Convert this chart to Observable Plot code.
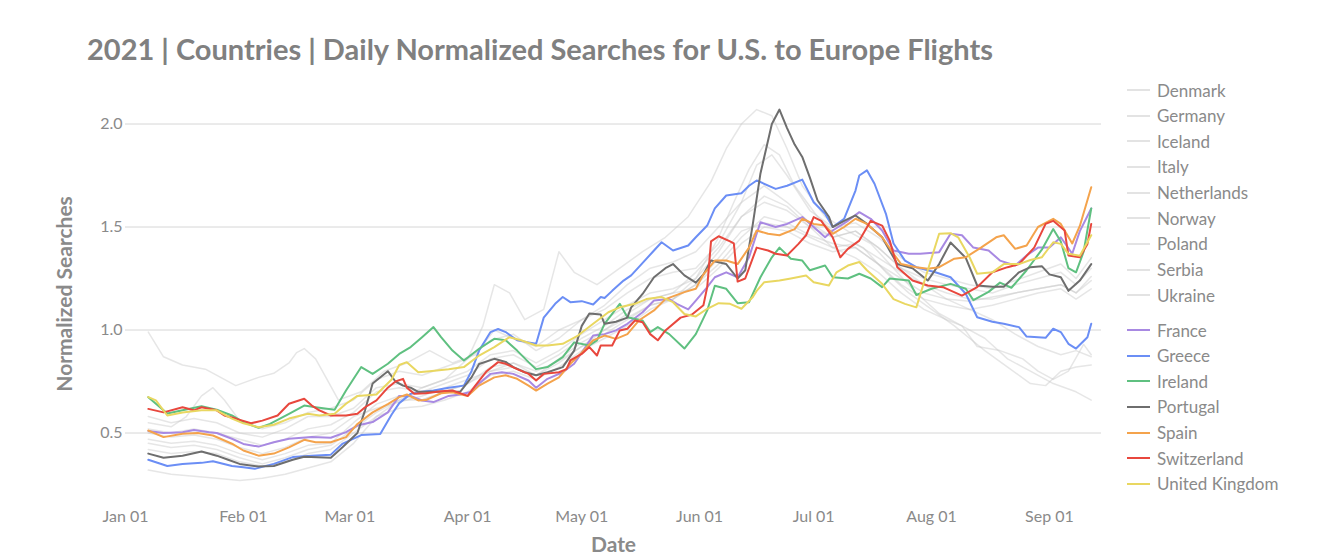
<!DOCTYPE html>
<html>
<head>
<meta charset="utf-8">
<script src="https://cdn.jsdelivr.net/npm/d3@7"></script>
<script src="https://cdn.jsdelivr.net/npm/@observablehq/plot@0.6"></script>
<style>
  html, body { margin: 0; padding: 0; background: #fff; }
  body { width: 1328px; height: 554px; position: relative; overflow: hidden; font-family: "Lato", "Open Sans", sans-serif; }
  #title { position: absolute; left: 87px; top: 32px; font-size: 29px; font-weight: 700; color: #808080; line-height: 34px; white-space: nowrap; }
  #chart { position: absolute; left: 0; top: 80px; }
  #legend { position: absolute; left: 1127px; top: 0; }
  .row { position: absolute; left: 0; display: flex; align-items: center; height: 24px; white-space: nowrap; }
  .sw { width: 23px; height: 2px; margin-right: 7px; }
  .lab { font-size: 17px; color: #8a8a8a; }
</style>
</head>
<body>
<div id="title">2021 | Countries | Daily Normalized Searches for U.S. to Europe Flights</div>
<div id="chart"></div>
<div id="legend"></div>
<script>
// ---- Data: [day offset from Jan 01 2021, normalized searches] ----
const grayCountries = ["Denmark", "Germany", "Iceland", "Italy", "Netherlands", "Norway", "Poland", "Serbia", "Ukraine"];
const colorCountries = ["France", "Greece", "Ireland", "Portugal", "Spain", "Switzerland", "United Kingdom"];
const colorValues = ["#a889e2", "#6b8ef5", "#5fc080", "#6e6e6e", "#f4a34c", "#e8473d", "#e9d761"];
const monthTicks = ["2021-01-01", "2021-02-01", "2021-03-01", "2021-04-01", "2021-05-01", "2021-06-01", "2021-07-01", "2021-08-01", "2021-09-01"];
const yTicks = [0.5, 1.0, 1.5, 2.0];

const denmark = [[6,0.99],[10,0.87],[15,0.83],[21,0.81],[26,0.76],[29,0.73],[35,0.77],[39,0.79],[43,0.84],[45,0.89],[47,0.91],[50,0.86],[53,0.76],[56,0.66],[62,0.70],[68,0.80],[74,0.84],[80,0.90],[86,0.84],[92,0.88],[97,1.0],[103,0.95],[108,0.92],[114,1.0],[120,1.05],[126,1.12],[132,1.22],[138,1.30],[144,1.33],[150,1.38],[156,1.50],[162,1.62],[168,1.70],[174,1.62],[180,1.52],[186,1.45],[192,1.48],[198,1.40],[204,1.30],[210,1.22],[216,1.15],[222,1.10],[228,1.05],[234,0.98],[240,0.92],[246,0.88],[250,0.90],[254,0.87]];
const germany = [[6,0.58],[12,0.55],[18,0.57],[24,0.55],[30,0.50],[36,0.48],[42,0.52],[48,0.58],[54,0.58],[60,0.62],[66,0.72],[72,0.74],[78,0.72],[84,0.76],[90,0.80],[96,0.88],[102,0.90],[108,0.84],[114,0.90],[120,0.98],[126,1.05],[132,1.12],[138,1.18],[144,1.20],[150,1.25],[156,1.38],[162,1.55],[168,1.62],[174,1.58],[180,1.50],[186,1.45],[192,1.48],[198,1.40],[204,1.30],[210,1.25],[216,1.22],[222,1.20],[228,1.18],[234,1.22],[240,1.25],[246,1.28],[250,1.22],[254,1.30]];
const iceland = [[6,0.32],[12,0.30],[18,0.29],[24,0.28],[30,0.27],[36,0.28],[42,0.30],[48,0.33],[54,0.36],[60,0.45],[66,0.58],[72,0.66],[78,0.72],[84,0.76],[90,0.86],[94,1.02],[97,1.22],[101,1.18],[105,1.05],[110,1.10],[114,1.38],[118,1.28],[124,1.22],[130,1.30],[136,1.38],[142,1.45],[148,1.55],[154,1.72],[158,1.88],[162,2.0],[166,2.07],[170,2.04],[174,1.88],[178,1.70],[184,1.55],[190,1.48],[196,1.42],[202,1.30],[208,1.18],[214,1.08],[220,1.02],[226,0.96],[232,0.86],[238,0.80],[244,0.74],[250,0.70],[254,0.66]];
const italy = [[6,0.47],[12,0.45],[18,0.46],[24,0.44],[30,0.40],[36,0.37],[42,0.40],[48,0.44],[54,0.45],[60,0.55],[66,0.64],[72,0.68],[78,0.66],[84,0.70],[90,0.74],[96,0.82],[102,0.84],[108,0.78],[114,0.84],[120,0.92],[126,0.98],[132,1.05],[138,1.12],[144,1.15],[150,1.22],[156,1.35],[162,1.48],[168,1.52],[174,1.50],[180,1.45],[186,1.40],[192,1.42],[198,1.35],[204,1.28],[210,1.22],[216,1.18],[222,1.15],[228,1.15],[234,1.18],[240,1.20],[246,1.22],[250,1.18],[254,1.24]];
const netherlands = [[6,0.55],[12,0.53],[16,0.58],[20,0.68],[23,0.72],[26,0.66],[30,0.56],[36,0.52],[42,0.55],[48,0.60],[54,0.62],[60,0.66],[66,0.76],[72,0.80],[78,0.78],[84,0.82],[90,0.86],[96,0.95],[102,0.98],[108,0.90],[114,0.96],[120,1.05],[126,1.10],[132,1.18],[138,1.25],[144,1.28],[150,1.30],[156,1.42],[162,1.62],[166,1.80],[170,1.85],[174,1.75],[180,1.58],[186,1.50],[192,1.52],[198,1.45],[204,1.35],[210,1.28],[216,1.25],[222,1.22],[228,1.20],[234,1.24],[240,1.28],[246,1.32],[250,1.25],[254,1.35]];
const norway = [[6,0.42],[12,0.40],[18,0.41],[24,0.40],[30,0.36],[36,0.34],[42,0.36],[48,0.40],[54,0.42],[60,0.50],[66,0.58],[72,0.62],[78,0.63],[84,0.66],[90,0.70],[96,0.78],[102,0.80],[108,0.76],[114,0.82],[120,0.90],[126,0.96],[132,1.02],[138,1.10],[144,1.15],[150,1.25],[156,1.45],[160,1.62],[164,1.78],[168,1.90],[172,1.85],[176,1.70],[182,1.55],[188,1.45],[194,1.40],[200,1.28],[206,1.18],[212,1.10],[218,1.02],[222,0.96],[226,0.90],[232,0.82],[238,0.74],[242,0.73],[246,0.80],[250,0.82],[254,0.83]];
const poland = [[6,0.52],[12,0.50],[18,0.52],[24,0.50],[30,0.47],[36,0.44],[42,0.47],[48,0.52],[54,0.54],[60,0.60],[66,0.70],[72,0.72],[78,0.70],[84,0.74],[90,0.78],[96,0.86],[102,0.88],[108,0.82],[114,0.88],[120,0.96],[126,1.02],[132,1.10],[138,1.15],[144,1.18],[150,1.20],[156,1.30],[162,1.42],[168,1.50],[174,1.48],[180,1.42],[186,1.38],[192,1.40],[198,1.32],[204,1.22],[210,1.15],[216,1.12],[222,1.10],[228,1.12],[234,1.15],[240,1.18],[246,1.20],[250,1.15],[254,1.20]];
const serbia = [[6,0.50],[12,0.48],[18,0.49],[24,0.47],[30,0.43],[36,0.40],[42,0.43],[48,0.48],[54,0.50],[60,0.58],[66,0.62],[72,0.65],[78,0.68],[84,0.72],[90,0.76],[96,0.80],[102,0.84],[108,0.80],[114,0.85],[120,0.92],[126,1.00],[132,1.08],[138,1.15],[144,1.18],[150,1.28],[156,1.40],[162,1.55],[168,1.65],[174,1.60],[180,1.50],[186,1.40],[192,1.35],[198,1.28],[204,1.18],[210,1.10],[216,1.05],[220,1.02],[224,0.92],[230,0.90],[236,0.86],[240,0.80],[244,0.76],[248,0.80],[252,0.93],[254,0.88]];
const ukraine = [[6,0.45],[12,0.43],[18,0.44],[24,0.42],[30,0.38],[36,0.35],[42,0.38],[48,0.42],[54,0.44],[60,0.52],[66,0.60],[72,0.66],[78,0.66],[84,0.70],[90,0.74],[96,0.80],[102,0.82],[108,0.78],[114,0.86],[120,0.94],[126,1.00],[132,1.06],[138,1.12],[144,1.15],[150,1.22],[156,1.32],[162,1.45],[168,1.55],[174,1.52],[180,1.46],[186,1.42],[192,1.40],[198,1.32],[204,1.25],[210,1.18],[216,1.15],[222,1.14],[228,1.16],[234,1.18],[240,1.20],[246,1.22],[250,1.18],[254,1.26]];

const france = [[6,0.51],[10,0.50],[15,0.504],[18,0.515],[22,0.504],[24,0.50],[28,0.472],[31,0.447],[35,0.434],[39,0.455],[43,0.472],[49,0.48],[54,0.477],[58,0.504],[61,0.536],[65,0.553],[69,0.60],[72,0.68],[75,0.68],[78,0.658],[81,0.65],[85,0.68],[88,0.687],[91,0.70],[93,0.74],[96,0.787],[99,0.795],[102,0.787],[106,0.755],[108,0.72],[111,0.763],[115,0.795],[118,0.836],[120,0.89],[123,0.973],[126,0.98],[129,0.998],[132,1.03],[136,1.086],[139,1.143],[143,1.15],[145,1.127],[148,1.10],[150,1.143],[153,1.208],[155,1.256],[158,1.28],[161,1.256],[164,1.353],[166,1.467],[167,1.523],[171,1.50],[174,1.515],[178,1.548],[181,1.50],[184,1.45],[186,1.483],[190,1.53],[193,1.572],[196,1.54],[199,1.483],[202,1.386],[206,1.37],[209,1.37],[214,1.378],[217,1.467],[220,1.46],[223,1.40],[227,1.386],[230,1.337],[234,1.313],[237,1.362],[240,1.40],[243,1.40],[246,1.45],[249,1.37],[251,1.48],[254,1.59]];
const greece = [[6,0.37],[11,0.34],[15,0.35],[20,0.355],[23,0.363],[28,0.34],[31,0.334],[34,0.326],[39,0.35],[44,0.383],[49,0.39],[54,0.395],[57,0.447],[62,0.49],[67,0.495],[70,0.59],[72,0.645],[75,0.69],[78,0.70],[81,0.706],[85,0.72],[89,0.73],[91,0.80],[93,0.90],[96,0.99],[98,1.005],[100,0.99],[103,0.95],[106,0.94],[108,0.933],[110,1.06],[113,1.127],[115,1.16],[117,1.135],[120,1.14],[123,1.124],[125,1.16],[126,1.155],[128,1.19],[131,1.24],[133,1.265],[135,1.305],[139,1.386],[141,1.426],[144,1.386],[148,1.41],[150,1.45],[153,1.507],[155,1.59],[158,1.653],[162,1.664],[164,1.70],[166,1.726],[171,1.685],[174,1.70],[178,1.73],[181,1.62],[184,1.564],[186,1.50],[189,1.54],[192,1.677],[193,1.75],[195,1.775],[197,1.71],[200,1.564],[202,1.42],[205,1.337],[208,1.305],[213,1.28],[217,1.256],[221,1.176],[224,1.062],[228,1.04],[231,1.03],[235,1.014],[237,0.968],[242,0.962],[244,1.006],[246,0.99],[248,0.933],[250,0.91],[253,0.965],[254,1.03]];
const ireland = [[6,0.674],[11,0.595],[15,0.61],[20,0.63],[24,0.613],[28,0.585],[31,0.553],[35,0.525],[38,0.544],[43,0.593],[47,0.633],[50,0.625],[55,0.613],[58,0.706],[62,0.82],[65,0.787],[69,0.836],[72,0.884],[75,0.917],[78,0.965],[81,1.014],[83,0.965],[86,0.90],[89,0.852],[93,0.909],[97,0.957],[100,0.95],[103,0.90],[106,0.844],[108,0.81],[111,0.82],[115,0.868],[118,0.94],[122,0.925],[124,0.95],[126,1.03],[130,1.127],[132,1.062],[136,1.046],[138,0.99],[140,1.014],[143,0.98],[147,0.91],[150,0.98],[153,1.095],[155,1.215],[158,1.20],[161,1.13],[164,1.135],[167,1.256],[170,1.353],[172,1.40],[175,1.346],[178,1.337],[180,1.29],[184,1.313],[186,1.256],[190,1.25],[193,1.273],[196,1.25],[199,1.208],[201,1.25],[206,1.24],[208,1.17],[212,1.2],[217,1.224],[221,1.2],[223,1.145],[227,1.185],[230,1.23],[233,1.205],[237,1.29],[241,1.39],[244,1.49],[246,1.43],[248,1.30],[250,1.28],[252,1.38],[254,1.59]];
const portugal = [[6,0.40],[10,0.38],[15,0.39],[20,0.41],[24,0.39],[27,0.37],[30,0.35],[35,0.337],[39,0.34],[44,0.37],[47,0.385],[54,0.38],[57,0.43],[61,0.50],[63,0.61],[65,0.74],[69,0.80],[71,0.75],[73,0.73],[75,0.72],[77,0.70],[88,0.70],[91,0.77],[93,0.835],[97,0.86],[100,0.845],[102,0.82],[105,0.795],[108,0.78],[111,0.795],[115,0.82],[118,0.90],[120,1.02],[122,1.08],[125,1.075],[126,1.03],[129,1.04],[132,1.06],[133,1.11],[136,1.175],[139,1.256],[142,1.30],[144,1.32],[147,1.265],[150,1.23],[152,1.27],[154,1.337],[158,1.32],[161,1.25],[163,1.29],[165,1.515],[167,1.76],[170,2.0],[172,2.07],[174,1.98],[176,1.90],[178,1.84],[180,1.74],[182,1.63],[185,1.55],[186,1.50],[189,1.53],[192,1.556],[195,1.515],[199,1.45],[203,1.32],[207,1.30],[211,1.24],[214,1.32],[217,1.425],[221,1.35],[224,1.216],[228,1.21],[231,1.21],[235,1.28],[238,1.305],[241,1.31],[243,1.27],[246,1.256],[248,1.19],[251,1.24],[254,1.32]];
const spain = [[6,0.512],[10,0.48],[15,0.496],[19,0.50],[23,0.488],[28,0.448],[31,0.415],[35,0.39],[39,0.40],[43,0.43],[47,0.467],[50,0.455],[54,0.455],[58,0.48],[61,0.544],[65,0.60],[69,0.64],[72,0.674],[74,0.687],[77,0.658],[79,0.66],[83,0.693],[86,0.698],[90,0.68],[93,0.73],[97,0.77],[100,0.78],[103,0.763],[106,0.73],[108,0.706],[111,0.74],[114,0.77],[117,0.836],[120,0.89],[123,0.95],[126,0.973],[129,0.957],[132,0.98],[135,1.046],[139,1.095],[142,1.15],[147,1.184],[150,1.2],[152,1.27],[155,1.337],[158,1.337],[161,1.32],[164,1.40],[166,1.483],[169,1.467],[172,1.46],[176,1.49],[178,1.54],[181,1.515],[184,1.507],[186,1.467],[189,1.50],[192,1.54],[195,1.515],[199,1.45],[202,1.37],[204,1.32],[208,1.305],[211,1.297],[214,1.305],[218,1.346],[221,1.353],[225,1.40],[229,1.45],[231,1.46],[234,1.394],[237,1.41],[240,1.50],[244,1.54],[246,1.515],[249,1.42],[251,1.505],[254,1.693]];
const switzerland = [[6,0.617],[10,0.60],[15,0.625],[18,0.61],[20,0.625],[24,0.61],[26,0.585],[29,0.57],[33,0.547],[36,0.56],[40,0.585],[43,0.642],[47,0.666],[49,0.633],[51,0.61],[54,0.585],[58,0.585],[61,0.593],[63,0.625],[66,0.658],[69,0.72],[71,0.75],[73,0.763],[74,0.72],[76,0.69],[79,0.693],[83,0.703],[86,0.706],[90,0.68],[92,0.73],[95,0.80],[98,0.844],[100,0.836],[103,0.81],[106,0.787],[108,0.755],[110,0.787],[114,0.795],[116,0.81],[117,0.852],[120,0.884],[122,0.917],[124,0.876],[125,0.925],[128,0.925],[130,0.998],[132,1.006],[134,1.046],[136,1.038],[138,0.98],[140,0.95],[142,0.998],[146,1.06],[149,1.075],[152,1.12],[153,1.208],[154,1.43],[156,1.455],[159,1.43],[160,1.42],[161,1.235],[163,1.25],[166,1.40],[169,1.386],[171,1.37],[174,1.362],[177,1.418],[179,1.46],[181,1.548],[183,1.53],[186,1.45],[188,1.353],[190,1.394],[193,1.434],[196,1.53],[199,1.507],[201,1.434],[203,1.305],[207,1.24],[211,1.216],[215,1.208],[220,1.167],[224,1.208],[228,1.28],[232,1.305],[235,1.32],[239,1.40],[242,1.515],[244,1.53],[247,1.483],[248,1.362],[251,1.353],[253,1.418],[254,1.515]];
const unitedKingdom = [[6,0.674],[8,0.658],[11,0.585],[15,0.60],[20,0.61],[24,0.61],[28,0.57],[31,0.547],[35,0.528],[39,0.54],[43,0.57],[48,0.593],[51,0.585],[55,0.593],[58,0.642],[61,0.68],[66,0.687],[70,0.76],[72,0.83],[74,0.844],[77,0.795],[80,0.80],[85,0.81],[89,0.82],[93,0.876],[97,0.917],[101,0.965],[104,0.95],[108,0.925],[111,0.925],[115,0.933],[119,0.973],[123,1.03],[127,1.086],[130,1.11],[134,1.127],[137,1.15],[141,1.16],[144,1.135],[147,1.078],[150,1.066],[153,1.103],[156,1.13],[159,1.127],[162,1.103],[165,1.16],[166,1.19],[168,1.232],[172,1.24],[175,1.25],[179,1.265],[181,1.232],[185,1.216],[187,1.28],[190,1.313],[193,1.33],[195,1.29],[199,1.224],[202,1.15],[205,1.127],[208,1.11],[211,1.29],[214,1.467],[217,1.47],[219,1.45],[222,1.353],[224,1.273],[228,1.28],[231,1.32],[235,1.32],[238,1.34],[241,1.353],[244,1.426],[246,1.418],[248,1.37],[251,1.36],[254,1.46]];

const graySeries = [denmark, germany, iceland, italy, netherlands, norway, poland, serbia, ukraine];
const colorSeries = [france, greece, ireland, portugal, spain, switzerland, unitedKingdom];

// ---- Build tables ----
const start = Date.UTC(2021, 0, 1);
const DAY = 864e5;
const toRows = (names, series) => names.flatMap((name, i) =>
  series[i].map(([d, v]) => ({country: name, date: new Date(start + d * DAY), value: v})));
const grayRows = toRows(grayCountries, graySeries);
const colorRows = toRows(colorCountries, colorSeries);

const textColor = "#8a8a8a";
const chart = Plot.plot({
  width: 1110,
  height: 474,
  marginLeft: 125,
  marginRight: 9,
  marginTop: 22.9,
  marginBottom: 70,
  style: {fontFamily: "Lato, 'Open Sans', sans-serif", fontSize: "16px", color: textColor, background: "transparent", overflow: "visible"},
  x: {type: "utc", domain: [new Date(start), new Date(start + 256.7 * DAY)]},
  y: {domain: [0.25, 2.1]},
  color: {domain: colorCountries, range: colorValues},
  marks: [
    Plot.gridY(yTicks, {stroke: "#d6d6d6", strokeOpacity: 1, strokeWidth: 1}),
    Plot.axisY(yTicks, {tickSize: 0, tickPadding: 3, tickFormat: d3.format(".1f"), label: null, fill: textColor}),
    Plot.axisX(monthTicks.map(s => new Date(s + "T00:00:00Z")), {tickSize: 0, tickPadding: 26, tickFormat: d3.utcFormat("%b %d"), label: null, fill: textColor}),
    Plot.lineY(grayRows, {x: "date", y: "value", z: "country", stroke: "#c8c8c8", strokeOpacity: 0.45, strokeWidth: 1.5}),
    Plot.lineY(colorRows, {x: "date", y: "value", z: "country", stroke: "country", strokeWidth: 2}),
    Plot.text(["Date"], {frameAnchor: "bottom", lineAnchor: "middle", textAnchor: "middle", dy: 61, fontWeight: "bold", fontSize: 21, fill: textColor}),
    Plot.text(["Normalized Searches"], {frameAnchor: "left", lineAnchor: "middle", textAnchor: "middle", dx: -60, rotate: -90, fontWeight: "bold", fontSize: 21, fill: textColor})
  ]
});
document.getElementById("chart").appendChild(chart);

// ---- Legend ----
const legend = document.getElementById("legend");
const addRow = (name, color, centerY) => {
  const row = document.createElement("div");
  row.className = "row";
  row.style.top = (centerY - 12) + "px";
  const sw = document.createElement("div");
  sw.className = "sw";
  sw.style.background = color;
  const lab = document.createElement("span");
  lab.className = "lab";
  lab.textContent = name;
  row.appendChild(sw);
  row.appendChild(lab);
  legend.appendChild(row);
};
grayCountries.forEach((n, i) => addRow(n, "#e3e3e3", 90 + i * 25.65));
colorCountries.forEach((n, i) => addRow(n, colorValues[i], 330 + i * 25.65));
</script>
</body>
</html>
